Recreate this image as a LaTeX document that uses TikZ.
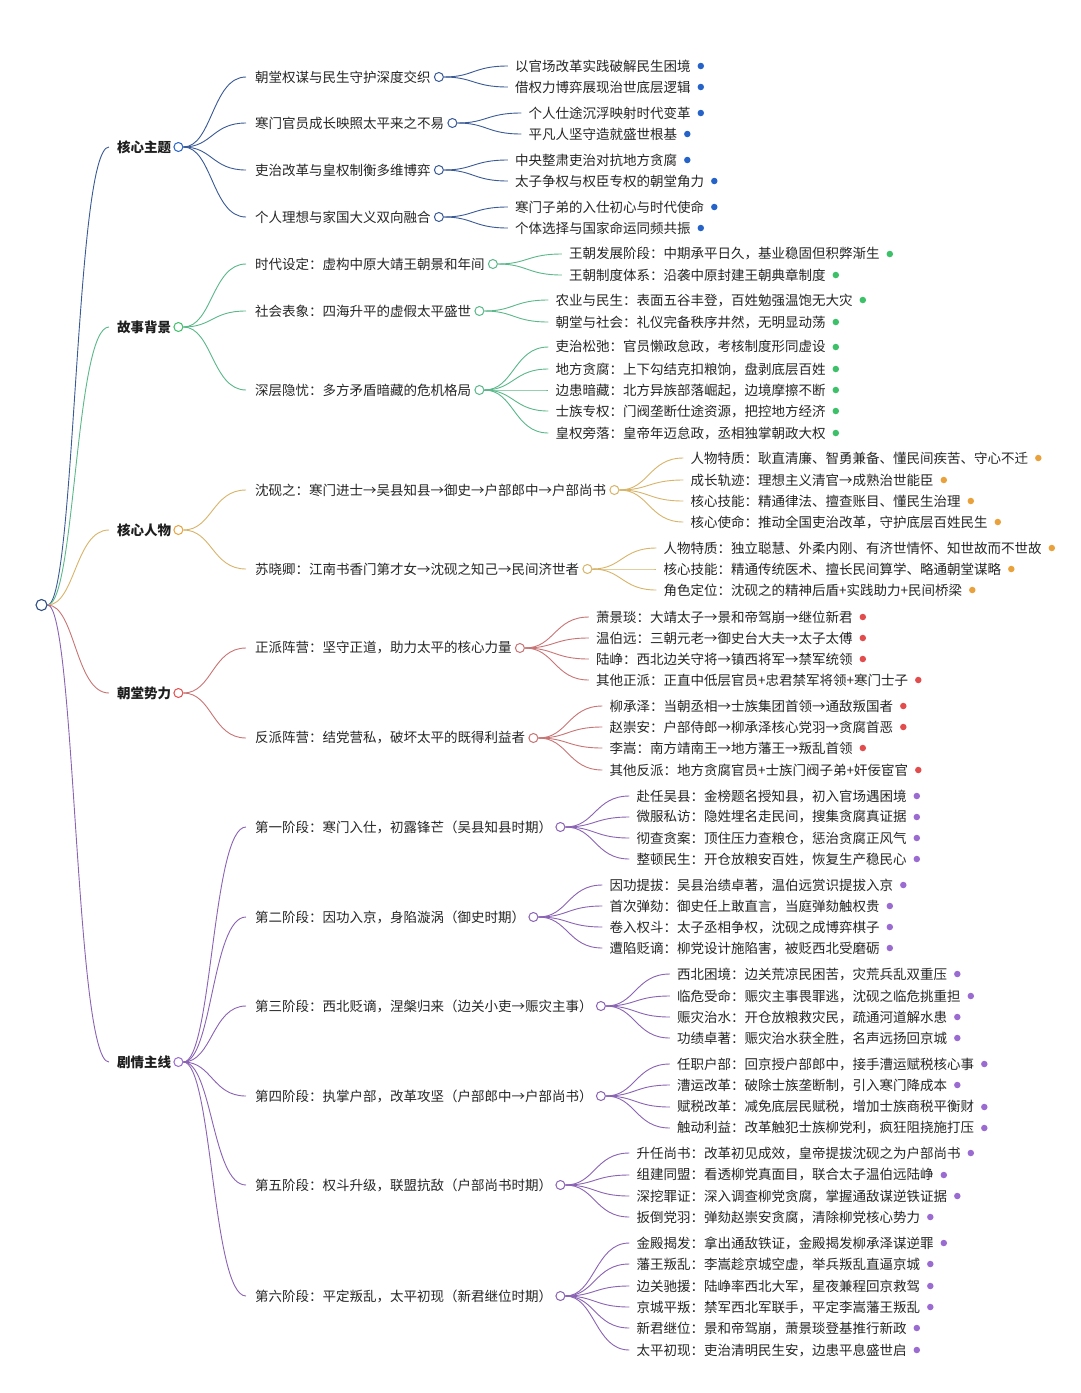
\documentclass[tikz,border=0pt]{standalone}
\usepackage{fontspec}
\setmainfont{Noto Sans CJK SC}
\usetikzlibrary{calc}
\pgfdeclarelayer{bg}
\pgfdeclarelayer{paper}
\pgfsetlayers{paper,bg,main}
\definecolor{cAL}{HTML}{3A5A96}\definecolor{cAD}{HTML}{2563C9}
\definecolor{cBL}{HTML}{5BB88A}\definecolor{cBD}{HTML}{3CC068}
\definecolor{cCL}{HTML}{D8B46A}\definecolor{cCD}{HTML}{E9A23B}
\definecolor{cDL}{HTML}{C97474}\definecolor{cDD}{HTML}{E24C4C}
\definecolor{cEL}{HTML}{8A63B5}\definecolor{cED}{HTML}{9A6BD0}
\definecolor{rootc}{HTML}{2E4D85}
\definecolor{txtA}{HTML}{1E1E1E}
\definecolor{txtB}{HTML}{262626}
\tikzset{
  lonetext/.style={anchor=west,inner sep=0pt,text=txtA,font=\fontsize{13.5pt}{16pt}\selectfont\bfseries},
  ltwotext/.style={anchor=west,inner sep=0pt,text=txtB,font=\fontsize{13.5pt}{16pt}\selectfont},
  lthreetext/.style={anchor=west,inner sep=0pt,text=txtB,font=\fontsize{13.5pt}{16pt}\selectfont},
  ringnode/.style={circle,inner sep=0pt,minimum size=9pt,line width=1pt,fill=white},
  dotnode/.style={circle,inner sep=0pt,minimum size=6.5pt},
  linkline/.style={line width=0.9pt}
}
\newcommand\mmlink[3]{\draw[linkline,#3] (#1) .. controls ($(#1)!0.5!(#1 -| #2)$) and ($(#2)!0.5!(#2 -| #1)$) .. (#2);}
% level 1: name, y, text, branch
\newcommand\lone[4]{%
  \node[lonetext] (#1) at (117,#2) {#3};
  \node[ringnode,draw=c#4D] (#1ring) at ([xshift=7pt]#1.east) {};
  \coordinate (#1in) at ([xshift=-8pt]#1.west);
  \begin{pgfonlayer}{bg}\mmlink{root}{#1in}{draw=c#4L}\end{pgfonlayer}}
% level 2: name, parent, y, text, branch
\newcommand\ltwo[5]{%
  \node[ltwotext] (#1) at (255,#3) {#4};
  \node[ringnode,draw=c#5L] (#1ring) at ([xshift=8pt]#1.east) {};
  \coordinate (#1in) at ([xshift=-9pt]#1.west);
  \begin{pgfonlayer}{bg}\mmlink{#2ring}{#1in}{draw=c#5L}\end{pgfonlayer}}
% level 3: name, parent, y, text, branch
\newcommand\lthree[5]{%
  \path let \p1=(#2ring) in node[lthreetext] (#1) at (\x1+76pt,-#3pt) {#4};
  \node[dotnode,fill=c#5D] (#1dot) at ([xshift=10pt]#1.east) {};
  \coordinate (#1in) at ([xshift=-7pt]#1.west);
  \begin{pgfonlayer}{bg}\mmlink{#2ring}{#1in}{draw=c#5L}\end{pgfonlayer}}
\begin{document}
\begin{tikzpicture}[x=1pt,y=-1pt]
\begin{pgfonlayer}{paper}
\fill[white] (0,0) rectangle (1080,1393);
\end{pgfonlayer}
\useasboundingbox (0,0) rectangle (1080,1393);
\node[circle,inner sep=0pt,minimum size=11pt,line width=1.1pt,draw=rootc,fill=white] (root) at (41.5,605) {};
% ---------- A
\lone{A}{147}{核心主题}{A}
\ltwo{Aa}{A}{77}{朝堂权谋与民生守护深度交织}{A}
\lthree{Aa1}{Aa}{66}{以官场改革实践破解民生困境}{A}
\lthree{Aa2}{Aa}{87}{借权力博弈展现治世底层逻辑}{A}
\ltwo{Ab}{A}{123}{寒门官员成长映照太平来之不易}{A}
\lthree{Ab1}{Ab}{113}{个人仕途沉浮映射时代变革}{A}
\lthree{Ab2}{Ab}{134}{平凡人坚守造就盛世根基}{A}
\ltwo{Ac}{A}{170}{吏治改革与皇权制衡多维博弈}{A}
\lthree{Ac1}{Ac}{160}{中央整肃吏治对抗地方贪腐}{A}
\lthree{Ac2}{Ac}{181}{太子争权与权臣专权的朝堂角力}{A}
\ltwo{Ad}{A}{217}{个人理想与家国大义双向融合}{A}
\lthree{Ad1}{Ad}{207}{寒门子弟的入仕初心与时代使命}{A}
\lthree{Ad2}{Ad}{228}{个体选择与国家命运同频共振}{A}
% ---------- B
\lone{B}{327}{故事背景}{B}
\ltwo{Ba}{B}{264}{时代设定：虚构中原大靖王朝景和年间}{B}
\lthree{Ba1}{Ba}{254}{王朝发展阶段：中期承平日久，基业稳固但积弊渐生}{B}
\lthree{Ba2}{Ba}{275}{王朝制度体系：沿袭中原封建王朝典章制度}{B}
\ltwo{Bb}{B}{311}{社会表象：四海升平的虚假太平盛世}{B}
\lthree{Bb1}{Bb}{300}{农业与民生：表面五谷丰登，百姓勉强温饱无大灾}{B}
\lthree{Bb2}{Bb}{322}{朝堂与社会：礼仪完备秩序井然，无明显动荡}{B}
\ltwo{Bc}{B}{390}{深层隐忧：多方矛盾暗藏的危机格局}{B}
\lthree{Bc1}{Bc}{347}{吏治松弛：官员懒政怠政，考核制度形同虚设}{B}
\lthree{Bc2}{Bc}{369}{地方贪腐：上下勾结克扣粮饷，盘剥底层百姓}{B}
\lthree{Bc3}{Bc}{390}{边患暗藏：北方异族部落崛起，边境摩擦不断}{B}
\lthree{Bc4}{Bc}{411}{士族专权：门阀垄断仕途资源，把控地方经济}{B}
\lthree{Bc5}{Bc}{433}{皇权旁落：皇帝年迈怠政，丞相独掌朝政大权}{B}
% ---------- C
\lone{C}{530}{核心人物}{C}
\ltwo{Ca}{C}{490}{沈砚之：寒门进士→吴县知县→御史→户部郎中→户部尚书}{C}
\lthree{Ca1}{Ca}{458}{人物特质：耿直清廉、智勇兼备、懂民间疾苦、守心不迁}{C}
\lthree{Ca2}{Ca}{480}{成长轨迹：理想主义清官→成熟治世能臣}{C}
\lthree{Ca3}{Ca}{501}{核心技能：精通律法、擅查账目、懂民生治理}{C}
\lthree{Ca4}{Ca}{522}{核心使命：推动全国吏治改革，守护底层百姓民生}{C}
\ltwo{Cb}{C}{569}{苏晓卿：江南书香门第才女→沈砚之知己→民间济世者}{C}
\lthree{Cb1}{Cb}{548}{人物特质：独立聪慧、外柔内刚、有济世情怀、知世故而不世故}{C}
\lthree{Cb2}{Cb}{569}{核心技能：精通传统医术、擅长民间算学、略通朝堂谋略}{C}
\lthree{Cb3}{Cb}{590}{角色定位：沈砚之的精神后盾+实践助力+民间桥梁}{C}
% ---------- D
\lone{D}{693}{朝堂势力}{D}
\ltwo{Da}{D}{648}{正派阵营：坚守正道，助力太平的核心力量}{D}
\lthree{Da1}{Da}{617}{萧景琰：大靖太子→景和帝驾崩→继位新君}{D}
\lthree{Da2}{Da}{638}{温伯远：三朝元老→御史台大夫→太子太傅}{D}
\lthree{Da3}{Da}{659}{陆峥：西北边关守将→镇西将军→禁军统领}{D}
\lthree{Da4}{Da}{680}{其他正派：正直中低层官员+忠君禁军将领+寒门士子}{D}
\ltwo{Db}{D}{738}{反派阵营：结党营私，破坏太平的既得利益者}{D}
\lthree{Db1}{Db}{706}{柳承泽：当朝丞相→士族集团首领→通敌叛国者}{D}
\lthree{Db2}{Db}{727}{赵崇安：户部侍郎→柳承泽核心党羽→贪腐首恶}{D}
\lthree{Db3}{Db}{748}{李嵩：南方靖南王→地方藩王→叛乱首领}{D}
\lthree{Db4}{Db}{770}{其他反派：地方贪腐官员+士族门阀子弟+奸佞宦官}{D}
% ---------- E
\lone{E}{1062}{剧情主线}{E}
\ltwo{Ea}{E}{827}{第一阶段：寒门入仕，初露锋芒（吴县知县时期）}{E}
\lthree{Ea1}{Ea}{796}{赴任吴县：金榜题名授知县，初入官场遇困境}{E}
\lthree{Ea2}{Ea}{817}{微服私访：隐姓埋名走民间，搜集贪腐真证据}{E}
\lthree{Ea3}{Ea}{838}{彻查贪案：顶住压力查粮仓，惩治贪腐正风气}{E}
\lthree{Ea4}{Ea}{859}{整顿民生：开仓放粮安百姓，恢复生产稳民心}{E}
\ltwo{Eb}{E}{917}{第二阶段：因功入京，身陷漩涡（御史时期）}{E}
\lthree{Eb1}{Eb}{885}{因功提拔：吴县治绩卓著，温伯远赏识提拔入京}{E}
\lthree{Eb2}{Eb}{906}{首次弹劾：御史任上敢直言，当庭弹劾触权贵}{E}
\lthree{Eb3}{Eb}{927}{卷入权斗：太子丞相争权，沈砚之成博弈棋子}{E}
\lthree{Eb4}{Eb}{948}{遭陷贬谪：柳党设计施陷害，被贬西北受磨砺}{E}
\ltwo{Ec}{E}{1006}{第三阶段：西北贬谪，涅槃归来（边关小吏→赈灾主事）}{E}
\lthree{Ec1}{Ec}{974}{西北困境：边关荒凉民困苦，灾荒兵乱双重压}{E}
\lthree{Ec2}{Ec}{996}{临危受命：赈灾主事畏罪逃，沈砚之临危挑重担}{E}
\lthree{Ec3}{Ec}{1017}{赈灾治水：开仓放粮救灾民，疏通河道解水患}{E}
\lthree{Ec4}{Ec}{1038}{功绩卓著：赈灾治水获全胜，名声远扬回京城}{E}
\ltwo{Ed}{E}{1096}{第四阶段：执掌户部，改革攻坚（户部郎中→户部尚书）}{E}
\lthree{Ed1}{Ed}{1064}{任职户部：回京授户部郎中，接手漕运赋税核心事}{E}
\lthree{Ed2}{Ed}{1085}{漕运改革：破除士族垄断制，引入寒门降成本}{E}
\lthree{Ed3}{Ed}{1107}{赋税改革：减免底层民赋税，增加士族商税平衡财}{E}
\lthree{Ed4}{Ed}{1128}{触动利益：改革触犯士族柳党利，疯狂阻挠施打压}{E}
\ltwo{Ee}{E}{1185}{第五阶段：权斗升级，联盟抗敌（户部尚书时期）}{E}
\lthree{Ee1}{Ee}{1153}{升任尚书：改革初见成效，皇帝提拔沈砚之为户部尚书}{E}
\lthree{Ee2}{Ee}{1175}{组建同盟：看透柳党真面目，联合太子温伯远陆峥}{E}
\lthree{Ee3}{Ee}{1196}{深挖罪证：深入调查柳党贪腐，掌握通敌谋逆铁证据}{E}
\lthree{Ee4}{Ee}{1217}{扳倒党羽：弹劾赵崇安贪腐，清除柳党核心势力}{E}
\ltwo{Ef}{E}{1296}{第六阶段：平定叛乱，太平初现（新君继位时期）}{E}
\lthree{Ef1}{Ef}{1243}{金殿揭发：拿出通敌铁证，金殿揭发柳承泽谋逆罪}{E}
\lthree{Ef2}{Ef}{1264}{藩王叛乱：李嵩趁京城空虚，举兵叛乱直逼京城}{E}
\lthree{Ef3}{Ef}{1286}{边关驰援：陆峥率西北大军，星夜兼程回京救驾}{E}
\lthree{Ef4}{Ef}{1307}{京城平叛：禁军西北军联手，平定李嵩藩王叛乱}{E}
\lthree{Ef5}{Ef}{1328}{新君继位：景和帝驾崩，萧景琰登基推行新政}{E}
\lthree{Ef6}{Ef}{1350}{太平初现：吏治清明民生安，边患平息盛世启}{E}
\end{tikzpicture}
\end{document}
